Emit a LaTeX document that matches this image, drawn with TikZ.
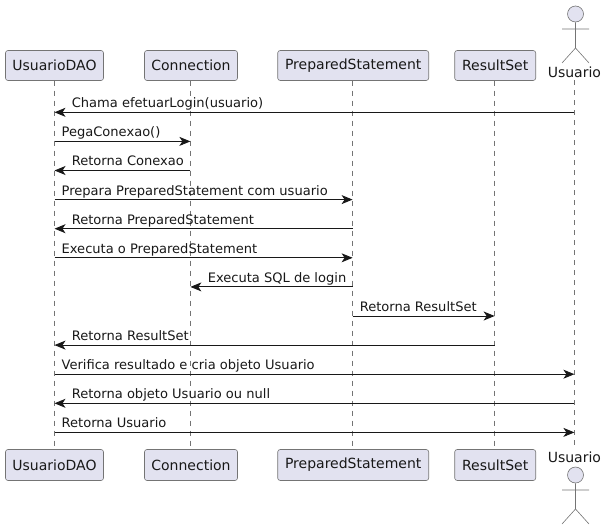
\documentclass[tikz,border=0pt]{standalone}
\usepackage{fontspec}
\setmainfont{DejaVu Sans}
\usetikzlibrary{arrows.meta, positioning}
\definecolor{seqFill}{HTML}{E2E2F0}
\definecolor{seqLine}{HTML}{181818}
\begin{document}
\begin{tikzpicture}[x=1pt, y=-1pt,
        box/.style={draw=seqLine!60, line width=0.6pt, fill=seqFill, rounded corners=2.5pt, text=seqLine, align=center, inner sep=0pt, outer sep=0pt, minimum height=30pt, font=\fontsize{14}{16}\selectfont},
        boxb/.style={box, minimum height=31pt},
        actorlbl/.style={text=seqLine, inner sep=0pt, minimum height=16pt, font=\fontsize{14}{16}\selectfont},
        head/.style={circle, draw=seqLine!60, line width=0.6pt, fill=seqFill, inner sep=0pt, minimum size=16pt},
        stick/.style={draw=seqLine!60, line width=0.6pt},
        life/.style={seqLine!60, line width=0.6pt, dash pattern=on 5pt off 5pt},
        msg/.style={-{Stealth[length=11pt, width=9pt, inset=3pt]}, seqLine, line width=0.9pt},
        lblr/.style={at start, anchor=base west, inner sep=0pt, xshift=6.7pt, yshift=4.6pt, text=seqLine, font=\fontsize{13.05}{15}\selectfont},
        lbll/.style={at end, anchor=base west, inner sep=0pt, xshift=16.9pt, yshift=4.6pt, text=seqLine, font=\fontsize{13.05}{15}\selectfont}]
        \useasboundingbox (0,0) rectangle (604,530);
        % top row
        \node[box, minimum width=98pt] (dao) at (54.5,65.5) {UsuarioDAO};
        \node[box, minimum width=93pt, right=41pt of dao] (con) {Connection};
        \node[box, minimum width=151pt, right=40.2pt of con] (pst) {PreparedStatement};
        \node[box, minimum width=81pt, right=26pt of pst] (rst) {ResultSet};
        \node[actorlbl] (usr) at (574.4,72) {Usuario};
        % bottom row
        \node[boxb, minimum width=98pt, below=369pt of dao] (daob) {UsuarioDAO};
        \node[boxb, minimum width=93pt, below=369pt of con] (conb) {Connection};
        \node[boxb, minimum width=151pt, below=369pt of pst] (pstb) {PreparedStatement};
        \node[boxb, minimum width=81pt, below=369pt of rst] (rstb) {ResultSet};
        \node[actorlbl] (usrb) at (574.4,457) {Usuario};
        % lifeline tops
        \coordinate (conl) at ([xshift=-.6pt]con.south);
        \coordinate (pstl) at ([xshift=-.6pt]pst.south);
        \coordinate (rstl) at ([xshift=-.6pt]rst.south);
        % lifelines
        \draw[life] (dao) -- (daob);
        \draw[life] (conl) -- (conl |- conb.north);
        \draw[life] (pstl) -- (pstl |- pstb.north);
        \draw[life] (rstl) -- (rstl |- rstb.north);
        \draw[life] (usr) -- (usrb);
        % actor figures
        \node[head] (hd) at (575.5,14) {};
        \draw[stick] (hd) -- (575.5,48) (562,29) -- (589,29) (562,63) -- (575.5,48) -- (589,63);
        \node[head] (hdb) at (575.5,475) {};
        \draw[stick] (hdb) -- (575.5,509) (562,490) -- (589,490) (562,524) -- (575.5,509) -- (589,524);
        % messages
        \draw[msg] (usr |- 0,112.3) -- (dao |- 0,112.3) node[lbll]{Chama efetuarLogin(usuario)};
        \draw[msg] (dao |- 0,141.4) -- (conl |- 0,141.4) node[lblr]{PegaConexao()};
        \draw[msg] (conl |- 0,170.5) -- (dao |- 0,170.5) node[lbll]{Retorna Conexao};
        \draw[msg] (dao |- 0,199.6) -- (pstl |- 0,199.6) node[lblr]{Prepara PreparedStatement com usuario};
        \draw[msg] (pstl |- 0,228.7) -- (dao |- 0,228.7) node[lbll]{Retorna PreparedStatement};
        \draw[msg] (dao |- 0,257.8) -- (pstl |- 0,257.8) node[lblr]{Executa o PreparedStatement};
        \draw[msg] (pstl |- 0,286.9) -- (conl |- 0,286.9) node[lbll]{Executa SQL de login};
        \draw[msg] (pstl |- 0,316) -- (rstl |- 0,316) node[lblr]{Retorna ResultSet};
        \draw[msg] (rstl |- 0,345.1) -- (dao |- 0,345.1) node[lbll]{Retorna ResultSet};
        \draw[msg] (dao |- 0,374.2) -- (usr |- 0,374.2) node[lblr]{Verifica resultado e cria objeto Usuario};
        \draw[msg] (usr |- 0,403.3) -- (dao |- 0,403.3) node[lbll]{Retorna objeto Usuario ou null};
        \draw[msg] (dao |- 0,432.4) -- (usr |- 0,432.4) node[lblr]{Retorna Usuario};
      \end{tikzpicture}
\end{document}
